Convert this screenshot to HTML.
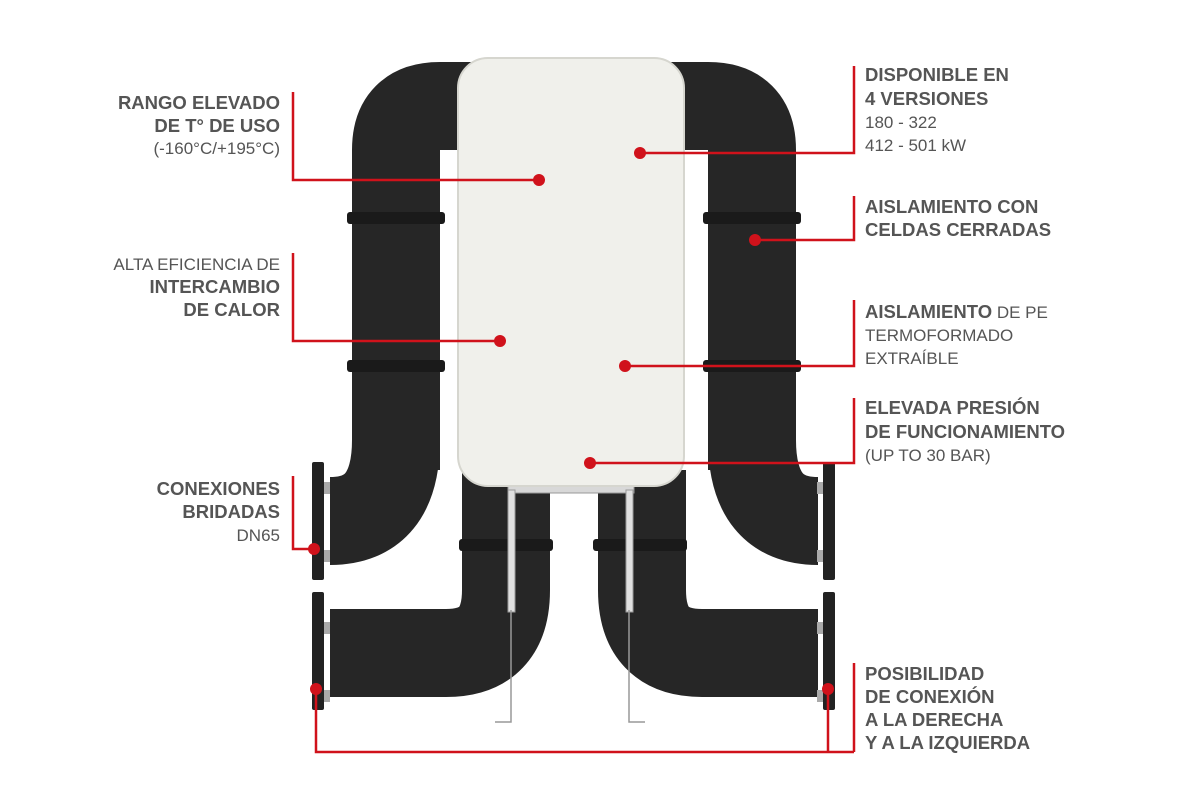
<!DOCTYPE html>
<html><head><meta charset="utf-8"><style>
html,body{margin:0;padding:0;background:#fff;}
svg{display:block}
text{font-family:"Liberation Sans",Arial,sans-serif;fill:#555;font-size:17px}
.b{font-weight:bold;font-size:18.5px}
</style></head><body>
<svg width="1200" height="797" viewBox="0 0 1200 797">
<g fill="none" stroke="#262626" stroke-width="88" stroke-linecap="butt">
<path d="M396,470 L396,150 Q396,106 440,106 L480,106"/>
<path d="M396,440 Q396,521 330,521"/>
<path d="M752,470 L752,150 Q752,106 708,106 L668,106"/>
<path d="M752,440 Q752,521 818,521"/>
<path d="M506,470 L506,590 Q506,653 446,653 L330,653"/>
<path d="M642,470 L642,590 Q642,653 702,653 L818,653"/>
</g>
<g fill="#1a1a1a">
<rect x="347" y="212" width="98" height="12" rx="3"/>
<rect x="347" y="360" width="98" height="12" rx="3"/>
<rect x="703" y="212" width="98" height="12" rx="3"/>
<rect x="703" y="360" width="98" height="12" rx="3"/>
<rect x="459" y="539" width="94" height="12" rx="3"/>
<rect x="593" y="539" width="94" height="12" rx="3"/>
</g>
<g fill="#222">
<rect x="312" y="462" width="12" height="118" rx="2"/>
<rect x="312" y="592" width="12" height="118" rx="2"/>
<rect x="823" y="462" width="12" height="118" rx="2"/>
<rect x="823" y="592" width="12" height="118" rx="2"/>
</g>
<g fill="#aaa">
<rect x="324" y="482" width="6" height="12"/><rect x="324" y="550" width="6" height="12"/>
<rect x="324" y="622" width="6" height="12"/><rect x="324" y="690" width="6" height="12"/>
<rect x="817" y="482" width="6" height="12"/><rect x="817" y="550" width="6" height="12"/>
<rect x="817" y="622" width="6" height="12"/><rect x="817" y="690" width="6" height="12"/>
</g>
<rect x="508" y="485" width="126" height="8" fill="#d8d8d8" stroke="#999" stroke-width="1"/>
<rect x="508" y="490" width="7" height="122" fill="#e0e0e0" stroke="#999" stroke-width="1"/>
<rect x="626" y="490" width="7" height="122" fill="#e0e0e0" stroke="#999" stroke-width="1"/>
<path d="M511,610 L511,722 L495,722 M629,610 L629,722 L645,722" stroke="#999" stroke-width="1.5" fill="none"/>
<rect x="458" y="58" width="226" height="428" rx="30" fill="#f0f0eb" stroke="#d6d6cf" stroke-width="2"/>
<g stroke="#d0121b" stroke-width="2.5" fill="none">
<path d="M293,92 L293,180 L539,180"/>
<path d="M293,253 L293,341 L500,341"/>
<path d="M293,476 L293,549 L314,549"/>
<path d="M316,689 L316,752 L854,752 M828,689 L828,752 M854,663 L854,752"/>
<path d="M854,66 L854,153 L640,153"/>
<path d="M854,196 L854,240 L755,240"/>
<path d="M854,300 L854,366 L625,366"/>
<path d="M854,398 L854,463 L590,463"/>
</g>
<g fill="#d0121b">
<circle cx="539" cy="180" r="6"/><circle cx="500" cy="341" r="6"/>
<circle cx="314" cy="549" r="6"/><circle cx="316" cy="689" r="6"/>
<circle cx="828" cy="689" r="6"/><circle cx="640" cy="153" r="6"/>
<circle cx="755" cy="240" r="6"/><circle cx="625" cy="366" r="6"/>
<circle cx="590" cy="463" r="6"/>
</g>
<g text-anchor="end">
<text x="280" y="109" class="b">RANGO ELEVADO</text>
<text x="280" y="132" class="b">DE T° DE USO</text>
<text x="280" y="154">(-160°C/+195°C)</text>
<text x="280" y="270">ALTA EFICIENCIA DE</text>
<text x="280" y="293" class="b">INTERCAMBIO</text>
<text x="280" y="316" class="b">DE CALOR</text>
<text x="280" y="495" class="b">CONEXIONES</text>
<text x="280" y="518" class="b">BRIDADAS</text>
<text x="280" y="541">DN65</text>
</g>
<g>
<text x="865" y="81" class="b">DISPONIBLE EN</text>
<text x="865" y="105" class="b">4 VERSIONES</text>
<text x="865" y="128">180 - 322</text>
<text x="865" y="151">412 - 501 kW</text>
<text x="865" y="213" class="b">AISLAMIENTO CON</text>
<text x="865" y="236" class="b">CELDAS CERRADAS</text>
<text x="865" y="318"><tspan font-weight="bold" font-size="18.5">AISLAMIENTO</tspan> DE PE</text>
<text x="865" y="341">TERMOFORMADO</text>
<text x="865" y="364">EXTRAÍBLE</text>
<text x="865" y="414" class="b">ELEVADA PRESIÓN</text>
<text x="865" y="438" class="b">DE FUNCIONAMIENTO</text>
<text x="865" y="461">(UP TO 30 BAR)</text>
<text x="865" y="680" class="b">POSIBILIDAD</text>
<text x="865" y="703" class="b">DE CONEXIÓN</text>
<text x="865" y="726" class="b">A LA DERECHA</text>
<text x="865" y="749" class="b">Y A LA IZQUIERDA</text>
</g>
</svg>
</body></html>
